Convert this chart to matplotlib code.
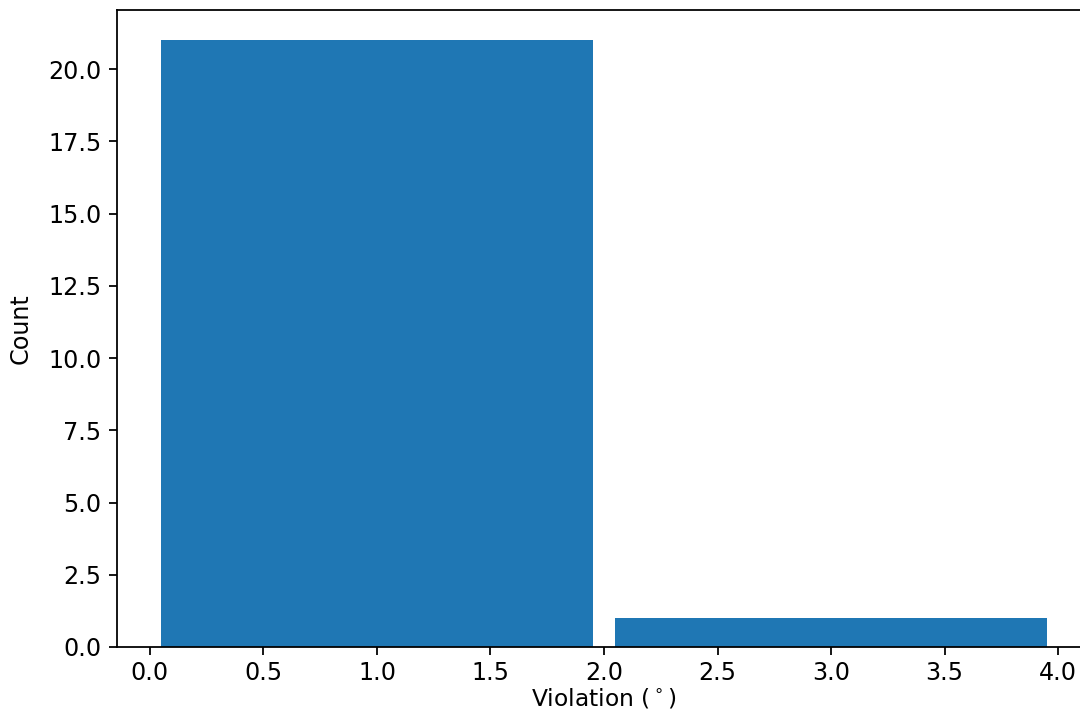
import matplotlib
matplotlib.use("Agg")
import matplotlib.pyplot as plt

bin_edges = [0.0, 2.0, 4.0]
counts = [21, 1]
bin_centers = [1.0, 3.0]

plt.rcParams["font.size"] = 10.75

fig = plt.figure(figsize=(6.75, 4.45), dpi=160)
ax = fig.add_axes([117/1080, 65/712, 974/1080, 637/712])
ax.hist(bin_centers, bins=bin_edges, weights=counts, rwidth=0.95, color="#1f77b4")
ax.set_xlabel(r"Violation ($^\circ$)", labelpad=0.5, fontsize=10.5)
ax.set_ylabel("Count", labelpad=7)
ax.tick_params(axis="x", pad=3)
ax.set_xlim(-0.145, 4.145)
ax.set_ylim(0, 22.05)
ax.set_xticks([0.0, 0.5, 1.0, 1.5, 2.0, 2.5, 3.0, 3.5, 4.0])
fig.savefig("out.png", dpi=160)
